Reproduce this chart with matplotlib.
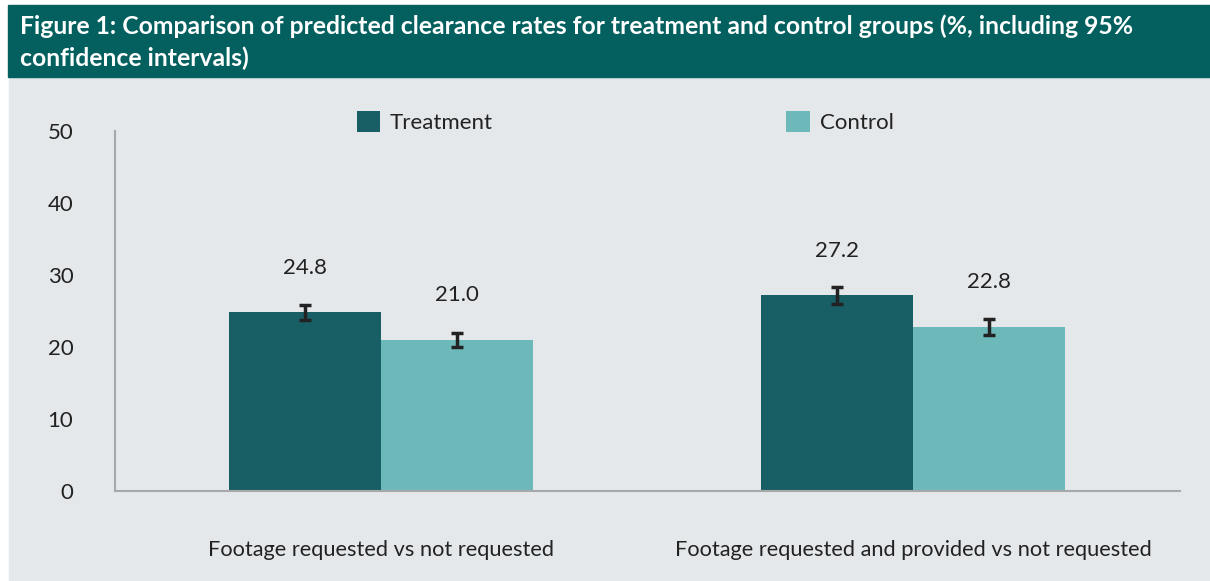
import numpy as np
import matplotlib.pyplot as plt
import matplotlib as mpl
from matplotlib.patches import Rectangle, Patch

mpl.rc('font', family=['Lato', 'DejaVu Sans'], size=16)
mpl.rc('text', color="#222222")

# data
categories = ["Footage requested vs not requested",
              "Footage requested and provided vs not requested"]
treatment = [24.8, 27.2]
control = [21.0, 22.8]
treatment_err = [1.0, 1.2]
control_err = [0.95, 1.1]
series_names = ["Treatment", "Control"]
yticks = [0, 10, 20, 30, 40, 50]

title = ("Figure 1: Comparison of predicted clearance rates for treatment and control groups (%, including 95%\n"
         "confidence intervals)")

TEAL_HEAD = "#03605F"
PANEL = "#E4E8EA"
C_TREAT = "#175F65"
C_CTRL = "#6DB9BA"
INK = "#222222"

W, H = 1210, 581
fig = plt.figure(figsize=(W / 100, H / 100), dpi=100, facecolor="white")

# background panel and header band
fig.patches.append(Rectangle((9 / W, 0), 1 - 9 / W, 1 - 78 / H,
                             transform=fig.transFigure, color=PANEL, zorder=-2))
fig.patches.append(Rectangle((8 / W, 1 - 77 / H), 1 - 8 / W, 72 / H,
                             transform=fig.transFigure, color=TEAL_HEAD, zorder=-2))
fig.text(20 / W, 1 - 42 / H, title, color="white", fontsize=17.8,
         fontweight="bold", va="center", ha="left", linespacing=1.45)

ax = fig.add_axes([115 / W, 1 - 491 / H, 1065 / W, 360 / H], zorder=1)
ax.set_facecolor("none")

x = np.arange(len(categories))
w = 0.286
ax.bar(x - w / 2, treatment, w, color=C_TREAT, zorder=2)
ax.bar(x + w / 2, control, w, color=C_CTRL, zorder=2)

err_kw = dict(fmt="none", ecolor=INK, elinewidth=2.5, capsize=4.3, capthick=2.5, zorder=3)
ax.errorbar(x - w / 2, treatment, yerr=treatment_err, **err_kw)
ax.errorbar(x + w / 2, control, yerr=control_err, **err_kw)

# value labels above the error bars
for xs, vals in [(x - w / 2, treatment), (x + w / 2, control)]:
    for xi, v in zip(xs, vals):
        ax.text(xi, v + 6.2, f"{v:.1f}", ha="center", va="center", fontsize=16, color=INK)

ax.set_xlim(-0.5, 1.502)
ax.set_ylim(0, 50)
ax.set_yticks(yticks)
ax.set_xticks(x)
ax.set_xticklabels(categories)
ax.tick_params(axis="both", length=0, labelsize=16, colors=INK)
ax.tick_params(axis="x", labelsize=15.7, pad=35)
ax.tick_params(axis="y", pad=30)

for s in ["top", "right"]:
    ax.spines[s].set_visible(False)
for s in ["left", "bottom"]:
    ax.spines[s].set_color("#A6A8AA")
    ax.spines[s].set_linewidth(1.5)

handles = [Patch(facecolor=C_TREAT), Patch(facecolor=C_CTRL)]
fig.legend(handles, series_names, loc="center", bbox_to_anchor=(625 / W, 1 - 122 / H),
           ncol=2, frameon=False, handlelength=1.05, handleheight=1.05,
           handletextpad=0.45, columnspacing=13.2, borderpad=0, fontsize=16)

fig.savefig("out.png", dpi=100, facecolor=fig.get_facecolor())
